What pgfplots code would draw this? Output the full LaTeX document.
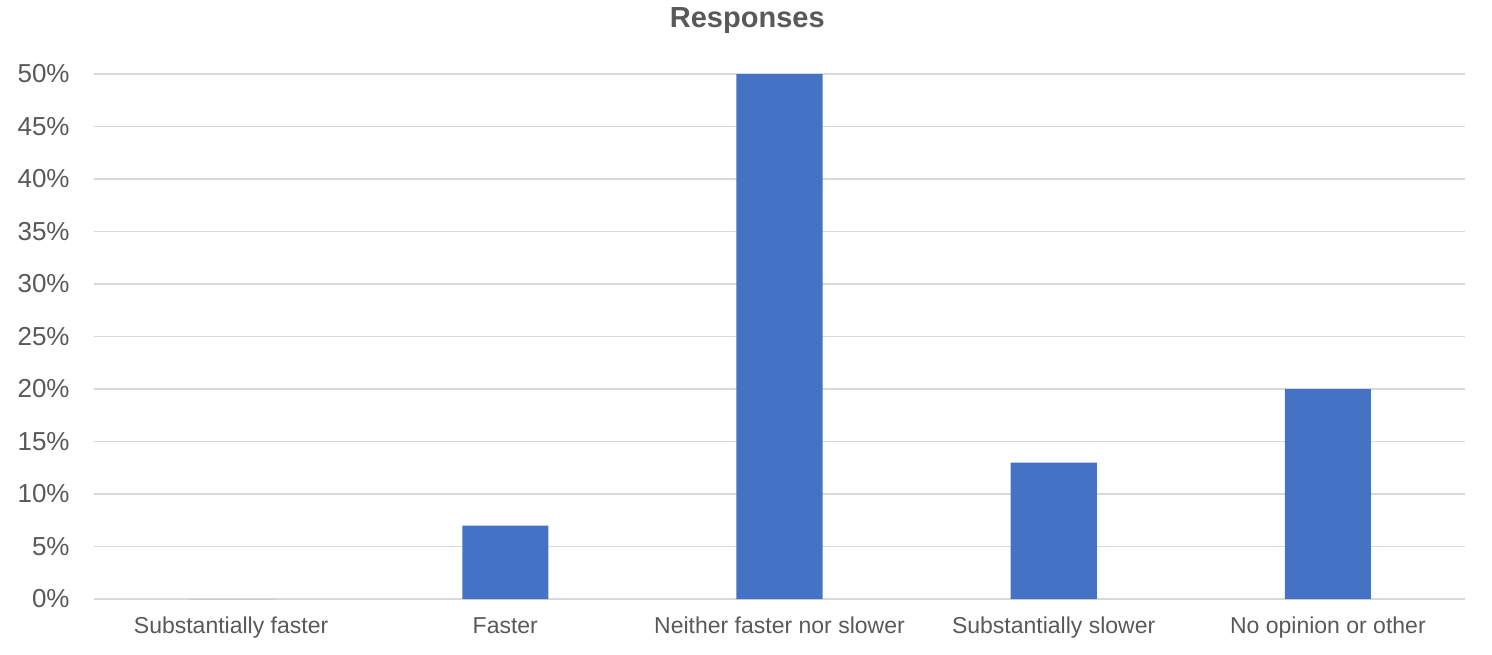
\documentclass[border=0pt]{standalone}
\usepackage{pgfplots}
\pgfplotsset{compat=1.18}
\usepackage{fontspec}
\setmainfont{Liberation Sans}
\definecolor{barblue}{HTML}{4472C4}
\definecolor{gridgray}{HTML}{D9D9D9}
\definecolor{txtgray}{HTML}{595959}
\begin{document}
\begin{tikzpicture}
\begin{axis}[
	scale only axis,
	width=685.5pt, height=262.5pt,
	ybar, bar width=0.314,
	xmin=-0.5, xmax=4.5,
	ymin=0, ymax=50,
	xtick={0,1,2,3,4},
	xticklabels={Substantially faster, Faster, Neither faster nor slower, Substantially slower, No opinion or other},
	ytick={0,5,...,50},
	yticklabel={\pgfmathprintnumber{\tick}\%},
	/pgf/number format/assume math mode=true,
	ymajorgrids,
	grid style={gridgray, line width=0.8pt},
	axis x line*=bottom,
	axis y line*=left,
	x axis line style={gridgray, line width=0.8pt, -},
	y axis line style={draw=none},
	major tick length=0pt,
	xticklabel style={font=\fontsize{11.5}{13}\selectfont, text=txtgray, inner sep=0pt, anchor=base, yshift=-17pt},
	yticklabel style={font=\fontsize{13}{15}\selectfont, text=txtgray, inner sep=0pt, xshift=-12pt},
	title={Responses},
	title style={font=\fontsize{14.5}{16}\selectfont\bfseries, text=txtgray, at={(0.4765,1)}, anchor=base, yshift=17.5pt},
]
	\addplot[fill=barblue, draw=none] coordinates {
		(0,0)
		(1,7)
		(2,50)
		(3,13)
		(4,20)
	};
	\coordinate (o) at (rel axis cs:0,0);
\end{axis}
\path (o) ++(-47pt,-27.5pt) rectangle ++(746pt,327pt);
\end{tikzpicture}
\end{document}
